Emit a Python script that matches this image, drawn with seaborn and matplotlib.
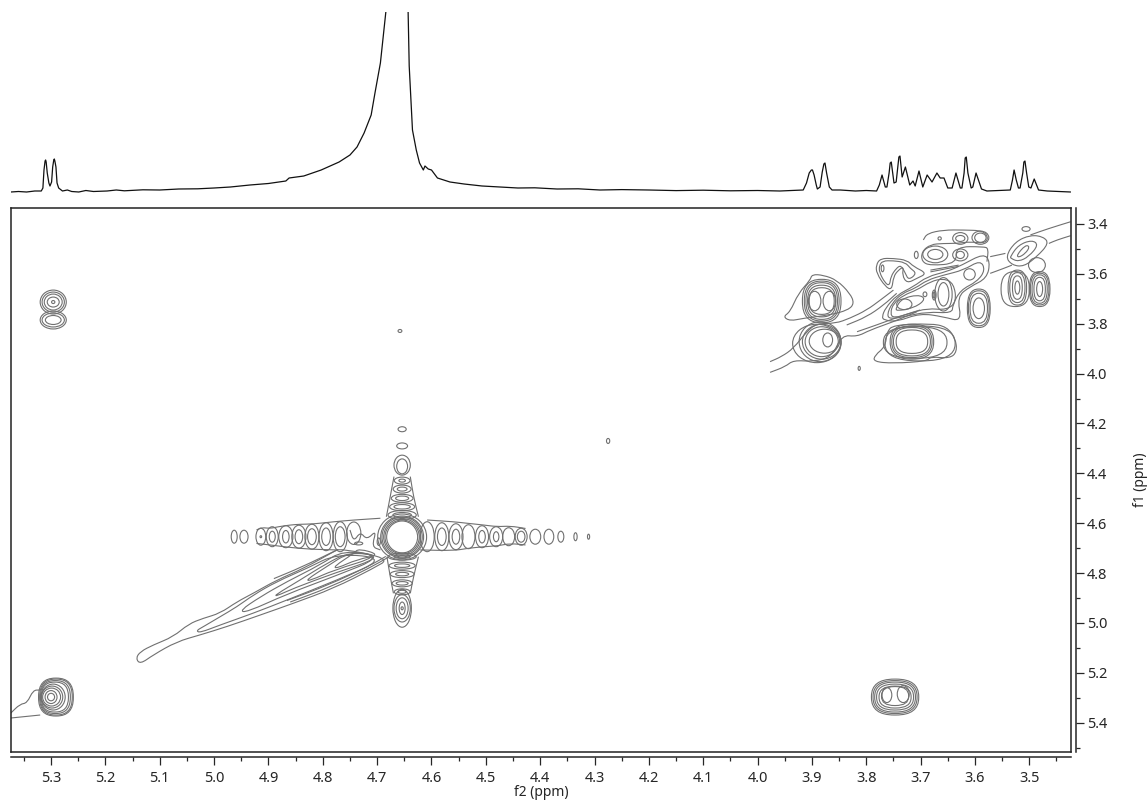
import matplotlib
matplotlib.use("Agg")
import matplotlib.pyplot as plt
from matplotlib.patches import Ellipse, FancyBboxPatch, PathPatch
from matplotlib.path import Path
import seaborn as sns

x_major = [5.3, 5.2, 5.1, 5.0, 4.9, 4.8, 4.7, 4.6, 4.5, 4.4, 4.3, 4.2, 4.1, 4.0, 3.9, 3.8, 3.7, 3.6, 3.5]
x_minor = [5.35, 5.25, 5.15, 5.05, 4.95, 4.85, 4.75, 4.65, 4.55, 4.45, 4.35, 4.25, 4.15, 4.05, 3.95, 3.85,
           3.75, 3.65, 3.55, 3.45]
y_major = [3.4, 3.6, 3.8, 4.0, 4.2, 4.4, 4.6, 4.8, 5.0, 5.2, 5.4]
y_minor = [3.5, 3.7, 3.9, 4.1, 4.3, 4.5, 4.7, 4.9, 5.1, 5.3, 5.5]

# 1D proton trace on top (ppm, height)
trace_left = [(5.374, -1), (5.360, -.5), (5.345, -1), (5.330, 0), (5.318, 0), (5.315, 3), (5.313, 21), (5.311, 30),
              (5.310, 31), (5.309, 29), (5.307, 18), (5.304, 8), (5.302, 5), (5.299, 9), (5.297, 24), (5.295, 31),
              (5.294, 32), (5.293, 30), (5.291, 24), (5.289, 8), (5.286, 3), (5.279, 0), (5.270, 1), (5.262, -.5),
              (5.249, -1), (5.236, .5), (5.222, -.5), (5.197, 0), (5.180, 1), (5.165, .2), (5.131, 1.2), (5.100, 1),
              (5.065, 2), (5.030, 2.2), (5.000, 3), (4.970, 4), (4.934, 6), (4.900, 7.5), (4.868, 10), (4.862, 13),
              (4.835, 15), (4.803, 21), (4.770, 29), (4.750, 36), (4.737, 44), (4.724, 58), (4.711, 76), (4.704, 98),
              (4.694, 128), (4.688, 158), (4.684, 179), (4.664, 900)]
trace_mid = [(4.643, 179), (4.641, 125), (4.635, 61), (4.628, 41), (4.622, 28), (4.615, 21), (4.612, 25),
             (4.606, 22), (4.600, 21), (4.589, 13), (4.566, 9), (4.540, 7), (4.507, 5), (4.475, 4), (4.441, 3),
             (4.410, 3.2), (4.369, 2), (4.330, 2.2), (4.290, 1), (4.250, 1.4), (4.2, 1), (4.150, .4), (4.100, .8),
             (4.050, .2), (4.000, .5)]
trace_right = [(3.959, 0), (3.916, 1), (3.910, 8), (3.905, 18), (3.901, 21), (3.899, 21), (3.896, 16), (3.892, 6),
               (3.890, 2), (3.885, 4), (3.881, 19), (3.878, 27), (3.876, 28), (3.873, 18), (3.868, 4), (3.863, 1),
               (3.848, 1), (3.820, 0), (3.800, .5), (3.781, 0), (3.776, 6), (3.771, 16), (3.765, 4), (3.762, 4),
               (3.758, 18), (3.756, 28), (3.754, 29), (3.751, 16), (3.749, 8), (3.745, 9), (3.740, 34), (3.738, 35),
               (3.734, 14), (3.728, 24), (3.720, 6), (3.714, 10), (3.710, 5), (3.703, 20), (3.696, 4), (3.688, 16),
               (3.679, 9), (3.670, 18), (3.664, 13), (3.657, 13), (3.650, 3), (3.642, 3), (3.635, 18), (3.627, 3),
               (3.624, 3), (3.620, 18), (3.618, 33), (3.616, 34), (3.613, 18), (3.607, 3), (3.604, 4), (3.598, 18),
               (3.588, 2), (3.578, 0), (3.555, .5), (3.535, 1), (3.531, 11), (3.528, 21), (3.524, 11), (3.520, 3),
               (3.517, 3), (3.512, 18), (3.510, 29), (3.508, 30), (3.505, 18), (3.501, 4), (3.497, 3), (3.491, 12),
               (3.483, 1), (3.467, 0), (3.445, -.5), (3.424, -1)]

# elliptical contour islands: f2, f1, width, height (ppm)
anomeric_top = [(5.296, 3.713, .048, .096), (5.296, 3.713, .041, .080), (5.296, 3.713, .033, .064),
                (5.296, 3.713, .022, .040), (5.296, 3.713, .006, .012), (5.296, 3.785, .048, .072),
                (5.296, 3.785, .041, .056), (5.296, 3.785, .029, .036)]
anomeric_diag_in = [(5.296, 5.297, .044, .104), (5.298, 5.297, .039, .088), (5.299, 5.297, .033, .072),
                    (5.300, 5.297, .022, .052), (5.300, 5.297, .013, .030)]
pair_39_in = [(3.895, 3.709, .023, .078), (3.868, 3.709, .023, .078)]
anomeric_right_in = [(3.762, 5.289, .018, .060), (3.732, 5.285, .022, .068)]
diag_39 = [(3.871, 3.865, .018, .056), (3.877, 3.870, .056, .096), (3.882, 3.872, .061, .120),
           (3.882, 3.872, .071, .140), (3.885, 3.872, .077, .160), (3.891, 3.879, .089, .154)]
cross_36_in = [(3.593, 3.738, .021, .083)]
ridge_spots = [(3.730, 3.722, .028, .043), (3.658, 3.682, .020, .094), (3.658, 3.682, .032, .134),
               (3.692, 3.682, .007, .019), (3.675, 3.685, .007, .040), (3.675, 3.685, .004, .024),
               (3.610, 3.602, .021, .045), (3.673, 3.522, .028, .040), (3.673, 3.522, .046, .067),
               (3.627, 3.458, .017, .024), (3.627, 3.458, .028, .047), (3.590, 3.455, .021, .037),
               (3.590, 3.455, .031, .053), (3.665, 3.458, .006, .013), (3.627, 3.524, .015, .029),
               (3.627, 3.524, .028, .048), (3.708, 3.524, .007, .029), (3.770, 3.578, .005, .027)]
right_spots = [(3.506, 3.420, .015, .019), (3.486, 3.565, .031, .060), (3.522, 3.655, .009, .053),
               (3.481, 3.661, .011, .060)]
specks = [(3.813, 3.979, .004, .016), (4.658, 3.829, .007, .012), (4.275, 4.270, .006, .020),
          (4.734, 4.681, .015, .012), (4.697, 4.674, .006, .030)]
water_rings = [(4.654, 4.655, .057, .128), (4.654, 4.655, .063, .136), (4.654, 4.655, .068, .148),
               (4.654, 4.655, .074, .160), (4.654, 4.655, .079, .168), (4.654, 4.655, .090, .184)]
arm_left = [(4.963, 4.654, .011, .052), (4.945, 4.654, .015, .052), (4.914, 4.654, .018, .068),
            (4.914, 4.654, .003, .008), (4.893, 4.654, .022, .080), (4.893, 4.654, .011, .044),
            (4.868, 4.654, .026, .088), (4.868, 4.654, .012, .050), (4.844, 4.654, .026, .092),
            (4.844, 4.654, .014, .056), (4.820, 4.654, .026, .100), (4.820, 4.654, .016, .064),
            (4.794, 4.654, .026, .112), (4.794, 4.654, .016, .070), (4.768, 4.654, .026, .120),
            (4.768, 4.654, .018, .080), (4.743, 4.640, .026, .090), (4.608, 4.654, .026, .120)]
arm_right = [(4.581, 4.654, .026, .112), (4.581, 4.654, .016, .070),
             (4.555, 4.654, .026, .104), (4.555, 4.654, .014, .060), (4.532, 4.654, .024, .096),
             (4.507, 4.654, .024, .088), (4.507, 4.654, .012, .050), (4.481, 4.654, .024, .080),
             (4.481, 4.654, .010, .040), (4.458, 4.654, .022, .072), (4.435, 4.654, .022, .068),
             (4.435, 4.654, .014, .044), (4.409, 4.654, .020, .060), (4.384, 4.654, .018, .060),
             (4.362, 4.654, .011, .044), (4.335, 4.654, .006, .032), (4.311, 4.654, .004, .020)]
arm_vertical = [(4.654, 4.223, .015, .020), (4.654, 4.290, .020, .024), (4.654, 4.367, .030, .080),
                (4.654, 4.372, .020, .060), (4.654, 4.429, .029, .028), (4.654, 4.429, .012, .012),
                (4.654, 4.463, .033, .032), (4.654, 4.463, .018, .016), (4.654, 4.500, .040, .032),
                (4.654, 4.500, .024, .018), (4.654, 4.534, .046, .032), (4.654, 4.534, .030, .018),
                (4.654, 4.567, .052, .036), (4.654, 4.567, .034, .020), (4.654, 4.734, .052, .028),
                (4.654, 4.734, .030, .014), (4.654, 4.770, .048, .028), (4.654, 4.770, .028, .014),
                (4.654, 4.804, .044, .028), (4.654, 4.804, .024, .014), (4.654, 4.841, .037, .028),
                (4.654, 4.841, .022, .014), (4.654, 4.875, .029, .024), (4.654, 4.875, .015, .012),
                (4.654, 4.941, .034, .152), (4.654, 4.941, .030, .110), (4.654, 4.941, .022, .084),
                (4.654, 4.941, .011, .050), (4.654, 4.941, .004, .012)]

# boxy contour islands, same columns
anomeric_diag_out = [(5.291, 5.297, .064, .152), (5.291, 5.297, .060, .144), (5.292, 5.297, .055, .132),
                     (5.293, 5.297, .050, .120)]
anomeric_right_out = [(3.747, 5.297, .087, .144), (3.747, 5.297, .081, .132), (3.747, 5.297, .075, .120),
                      (3.747, 5.297, .068, .104), (3.747, 5.297, .059, .088), (3.747, 5.293, .050, .076)]
pair_39_out = [(3.882, 3.709, .071, .174), (3.882, 3.709, .064, .160), (3.882, 3.709, .058, .147),
               (3.882, 3.709, .052, .127), (3.882, 3.709, .046, .107)]
cross_37_out = [(3.716, 3.872, .058, .094), (3.716, 3.872, .068, .114), (3.716, 3.872, .074, .127),
                (3.716, 3.872, .080, .140), (3.710, 3.875, .117, .127), (3.701, 3.879, .129, .140)]
cross_36_out = [(3.593, 3.738, .032, .120), (3.593, 3.738, .038, .140), (3.593, 3.738, .042, .154)]
right_out = [(3.522, 3.655, .018, .094), (3.522, 3.655, .028, .120), (3.522, 3.655, .034, .140),
             (3.526, 3.661, .052, .140), (3.481, 3.661, .021, .094), (3.481, 3.661, .028, .114),
             (3.481, 3.661, .034, .127), (3.481, 3.661, .038, .140)]

# irregular outlines: (f2, f1)
streak_1 = [(5.144, 5.142), (5.136, 5.115), (5.112, 5.088), (5.075, 5.055), (5.047, 5.004), (5.020, 4.981),
            (4.989, 4.961), (4.958, 4.915), (4.928, 4.881), (4.885, 4.828), (4.835, 4.781), (4.780, 4.714),
            (4.768, 4.701), (4.676, 4.741), (4.707, 4.781), (4.780, 4.861), (4.854, 4.921), (4.915, 4.968),
            (4.977, 5.015), (5.026, 5.048), (5.069, 5.075), (5.112, 5.128), (5.136, 5.165), (5.144, 5.142)]
streak_2 = [(5.033, 5.031), (5.020, 5.015), (4.989, 4.975), (4.958, 4.935), (4.928, 4.888), (4.885, 4.834),
            (4.829, 4.781), (4.774, 4.721), (4.682, 4.741), (4.774, 4.828), (4.866, 4.908), (4.928, 4.961),
            (4.989, 5.008), (5.026, 5.039), (5.033, 5.031)]
streak_3 = [(4.953, 4.951), (4.915, 4.895), (4.866, 4.834), (4.805, 4.767), (4.762, 4.707), (4.688, 4.734),
            (4.780, 4.814), (4.866, 4.884), (4.940, 4.957), (4.953, 4.951)]
streak_4 = [(4.888, 4.888), (4.842, 4.828), (4.793, 4.761), (4.750, 4.714), (4.688, 4.734), (4.780, 4.801),
            (4.854, 4.861), (4.885, 4.892), (4.888, 4.888)]
streak_5 = [(4.831, 4.828), (4.793, 4.774), (4.750, 4.714), (4.694, 4.731), (4.780, 4.788), (4.823, 4.830),
            (4.831, 4.828)]
streak_6 = [(4.780, 4.774), (4.743, 4.721), (4.734, 4.701), (4.694, 4.727), (4.737, 4.745), (4.774, 4.781),
            (4.780, 4.774)]
streak_low_a = [(4.680, 4.737), (4.712, 4.777), (4.785, 4.855), (4.860, 4.916)]
streak_low_b = [(4.684, 4.733), (4.716, 4.773), (4.790, 4.848), (4.866, 4.910)]
streak_up_a = [(4.772, 4.705), (4.840, 4.777), (4.890, 4.822)]
water_m = [(4.750, 4.627), (4.743, 4.674), (4.731, 4.634), (4.719, 4.667), (4.701, 4.627), (4.710, 4.694),
           (4.694, 4.707)]
tail_upper = [(5.374, 5.361), (5.357, 5.325), (5.344, 5.321), (5.333, 5.269), (5.320, 5.269)]
tail_lower = [(5.374, 5.381), (5.320, 5.369)]
arm_edge_1 = [(4.922, 4.627), (4.912, 4.617), (4.897, 4.621), (4.882, 4.614), (4.860, 4.607), (4.842, 4.604),
              (4.817, 4.603), (4.780, 4.594), (4.743, 4.587), (4.694, 4.580)]
arm_edge_2 = [(4.922, 4.681), (4.897, 4.687), (4.872, 4.694), (4.842, 4.701), (4.811, 4.705), (4.774, 4.707)]
arm_edge_3 = [(4.608, 4.587), (4.559, 4.594), (4.535, 4.600), (4.504, 4.607), (4.479, 4.614), (4.455, 4.611),
              (4.427, 4.621)]
arm_edge_4 = [(4.621, 4.707), (4.559, 4.710), (4.535, 4.701), (4.504, 4.694), (4.479, 4.691), (4.455, 4.681),
              (4.427, 4.687)]
arm_edge_5 = [(4.669, 4.413), (4.676, 4.494), (4.683, 4.574)]
arm_edge_6 = [(4.639, 4.413), (4.633, 4.494), (4.624, 4.574)]
arm_edge_7 = [(4.682, 4.734), (4.676, 4.814), (4.670, 4.881)]
arm_edge_8 = [(4.624, 4.734), (4.633, 4.814), (4.639, 4.881)]
pair_outer = [(3.953, 3.772), (3.940, 3.752), (3.925, 3.678), (3.903, 3.625), (3.900, 3.602), (3.879, 3.605),
              (3.854, 3.625), (3.830, 3.678), (3.822, 3.718), (3.833, 3.745), (3.867, 3.765), (3.916, 3.778),
              (3.940, 3.789), (3.953, 3.772)]
diag_a = [(3.977, 3.952), (3.956, 3.932), (3.934, 3.899), (3.910, 3.832), (3.891, 3.799), (3.857, 3.799),
          (3.830, 3.778), (3.799, 3.745), (3.774, 3.705), (3.750, 3.665)]
diag_b = [(3.977, 3.995), (3.949, 3.972), (3.934, 3.946), (3.897, 3.952), (3.863, 3.932), (3.845, 3.845),
          (3.817, 3.852), (3.793, 3.825), (3.750, 3.792), (3.707, 3.752)]
diag_c = [(3.836, 3.805), (3.799, 3.772), (3.768, 3.725), (3.744, 3.678)]
diag_d = [(3.817, 3.832), (3.781, 3.805), (3.731, 3.765), (3.701, 3.745)]
cross_outer = [(3.787, 3.952), (3.784, 3.926), (3.765, 3.892), (3.762, 3.832), (3.750, 3.805), (3.682, 3.799),
               (3.652, 3.812), (3.636, 3.859), (3.633, 3.912), (3.646, 3.939), (3.682, 3.932), (3.688, 3.950),
               (3.750, 3.959), (3.787, 3.952)]
ridge_1 = [(3.756, 3.758), (3.750, 3.718), (3.731, 3.685), (3.707, 3.665), (3.682, 3.631), (3.658, 3.618),
           (3.639, 3.638), (3.634, 3.712), (3.652, 3.745), (3.688, 3.738), (3.719, 3.758), (3.750, 3.778),
           (3.756, 3.758)]
ridge_2 = [(3.771, 3.772), (3.765, 3.738), (3.744, 3.685), (3.713, 3.651), (3.688, 3.611), (3.652, 3.591),
           (3.624, 3.565), (3.584, 3.518), (3.572, 3.551), (3.578, 3.618), (3.609, 3.651), (3.633, 3.692),
           (3.624, 3.792), (3.658, 3.772), (3.701, 3.758), (3.744, 3.792), (3.768, 3.785), (3.771, 3.772)]
ridge_3 = [(3.762, 3.765), (3.753, 3.718), (3.734, 3.678), (3.710, 3.658), (3.688, 3.625), (3.658, 3.605),
           (3.621, 3.585), (3.590, 3.545), (3.581, 3.585), (3.596, 3.631), (3.627, 3.665), (3.641, 3.725),
           (3.642, 3.758), (3.688, 3.752), (3.731, 3.772), (3.756, 3.781), (3.762, 3.765)]
ridge_4 = [(3.745, 3.735), (3.735, 3.700), (3.705, 3.683), (3.690, 3.700), (3.710, 3.735), (3.745, 3.750),
           (3.745, 3.735)]
ridge_bar_a = [(3.682, 3.585), (3.630, 3.565)]
ridge_bar_b = [(3.682, 3.592), (3.630, 3.570)]
top_outer = [(3.695, 3.464), (3.688, 3.438), (3.658, 3.424), (3.621, 3.424), (3.584, 3.427), (3.575, 3.458),
             (3.584, 3.478), (3.609, 3.471), (3.633, 3.478), (3.658, 3.478), (3.682, 3.482), (3.698, 3.511),
             (3.698, 3.551), (3.682, 3.567), (3.633, 3.558), (3.636, 3.491), (3.584, 3.491), (3.575, 3.498),
             (3.578, 3.551)]
lobe_1 = [(3.782, 3.565), (3.774, 3.538), (3.750, 3.538), (3.725, 3.545), (3.713, 3.571), (3.688, 3.598),
          (3.707, 3.618), (3.725, 3.638), (3.734, 3.605), (3.731, 3.571), (3.741, 3.585), (3.750, 3.611),
          (3.753, 3.665), (3.765, 3.651), (3.781, 3.598), (3.782, 3.565)]
lobe_2 = [(3.776, 3.567), (3.770, 3.548), (3.751, 3.547), (3.728, 3.554), (3.719, 3.578), (3.707, 3.598),
          (3.722, 3.625), (3.728, 3.598), (3.736, 3.565), (3.745, 3.578), (3.755, 3.611), (3.757, 3.647),
          (3.765, 3.638), (3.776, 3.594), (3.776, 3.567)]
blob_inner = [(3.523, 3.524), (3.507, 3.484), (3.499, 3.491), (3.507, 3.518), (3.520, 3.535), (3.523, 3.524)]
blob_mid = [(3.535, 3.531), (3.520, 3.484), (3.495, 3.464), (3.483, 3.484), (3.501, 3.531), (3.520, 3.551),
            (3.534, 3.538), (3.535, 3.531)]
blob_outer = [(3.544, 3.531), (3.526, 3.471), (3.498, 3.444), (3.474, 3.451), (3.464, 3.478), (3.486, 3.531),
              (3.510, 3.571), (3.532, 3.565), (3.544, 3.531)]
edge_a = [(3.498, 3.444), (3.467, 3.420), (3.424, 3.391)]
edge_b = [(3.464, 3.478), (3.449, 3.464), (3.424, 3.447)]
edge_c = [(3.572, 3.531), (3.544, 3.518)]
edge_d = [(3.572, 3.598), (3.547, 3.578), (3.532, 3.565)]

islands = [anomeric_top, anomeric_diag_in, pair_39_in, anomeric_right_in, diag_39, cross_36_in, ridge_spots,
           right_spots, specks, water_rings, arm_left, arm_right, arm_vertical]
boxes = [anomeric_diag_out, anomeric_right_out, pair_39_out, cross_37_out, cross_36_out, right_out]
outlines = [streak_1, streak_2, streak_3, streak_4, streak_5, streak_6, streak_low_a, streak_low_b, streak_up_a,
            water_m, tail_upper, tail_lower, arm_edge_1, arm_edge_2, arm_edge_3, arm_edge_4, arm_edge_5,
            arm_edge_6, arm_edge_7, arm_edge_8, pair_outer, diag_a, diag_b, diag_c, diag_d, cross_outer, ridge_1,
            ridge_2, ridge_3, ridge_4, ridge_bar_a, ridge_bar_b, top_outer, lobe_1, lobe_2, blob_inner, blob_mid,
            blob_outer, edge_a, edge_b, edge_c, edge_d]


def smoothPath(pts):
    # quadratic curves through the midpoints, the read points act as control points
    mids = [((a[0] + b[0]) / 2, (a[1] + b[1]) / 2) for a, b in zip(pts[:-1], pts[1:])]
    if pts[0] == pts[-1]:
        verts = [mids[-1]]
        codes = [Path.MOVETO]
        for p, m in zip(pts[:-1], mids):
            verts += [p, m]
            codes += [Path.CURVE3, Path.CURVE3]
    else:
        verts = [pts[0], mids[0]]
        codes = [Path.MOVETO, Path.LINETO]
        for p, m in zip(pts[1:-1], mids[1:]):
            verts += [p, m]
            codes += [Path.CURVE3, Path.CURVE3]
        verts.append(pts[-1])
        codes.append(Path.LINETO)
    return Path(verts, codes)


sns.set_style("white")
plt.rcParams["font.family"] = ["Noto Sans", "DejaVu Sans"]
contour_color = "#707070"

fig = plt.figure(figsize=(11.47, 8.01), dpi=100)
ax = fig.add_axes([11 / 1147, 1 - 752 / 801, 1060 / 1147, 544 / 801])
topAx = fig.add_axes([11 / 1147, 1 - 200 / 801, 1060 / 1147, 188 / 801])

trace = trace_left + trace_mid + trace_right
sns.lineplot(x=[p[0] for p in trace], y=[p[1] for p in trace], sort=False, estimator=None,
             color="#111111", linewidth=0.9, ax=topAx)
topAx.set_xlim(5.3737, 3.4233)
topAx.set_ylim(-9, 179)
topAx.axis("off")

for rows in islands:
    for f2, f1, w, h in rows:
        ax.add_patch(Ellipse((f2, f1), w, h, fill=False, edgecolor=contour_color, linewidth=0.8))
for rows in boxes:
    for f2, f1, w, h in rows:
        ax.add_patch(FancyBboxPatch((f2 - w / 2, f1 - h / 2), w, h, boxstyle="round,pad=0,rounding_size=%f" % (0.48 * w),
                                    mutation_aspect=h / w, fill=False, edgecolor=contour_color, linewidth=0.8))
for line in outlines:
    ax.add_patch(PathPatch(smoothPath(line), fill=False, edgecolor=contour_color, linewidth=0.8))

ax.set_xlim(5.3737, 3.4233)
ax.set_ylim(5.5173, 3.3359)
ax.set_xticks([])
ax.set_yticks([])
for s in ax.spines.values():
    s.set_visible(True)
    s.set_color("#222222")
    s.set_linewidth(1.1)

xAxis = ax.secondary_xaxis(-5 / 544)
xAxis.set_xticks(x_major, ["%.1f" % v for v in x_major])
xAxis.set_xticks(x_minor, minor=True)
xAxis.tick_params(which="major", direction="out", length=6, width=0.9, labelsize=10.5, pad=4, bottom=True)
xAxis.tick_params(which="minor", direction="out", length=3, width=0.9, bottom=True)
xAxis.set_xlabel("f2 (ppm)", fontsize=10, labelpad=-1)
xAxis.spines["bottom"].set_linewidth(1.1)

yAxis = ax.secondary_yaxis(1 + 5 / 1060)
yAxis.set_yticks(y_major, ["%.1f" % v for v in y_major])
yAxis.set_yticks(y_minor, minor=True)
yAxis.tick_params(which="major", direction="out", length=6, width=0.9, labelsize=10.5, pad=2, right=True)
yAxis.tick_params(which="minor", direction="out", length=3, width=0.9, right=True)
yAxis.set_ylabel("f1 (ppm)", fontsize=10, labelpad=18)
yAxis.spines["right"].set_linewidth(1.1)

plt.savefig("out.png", dpi=100)
